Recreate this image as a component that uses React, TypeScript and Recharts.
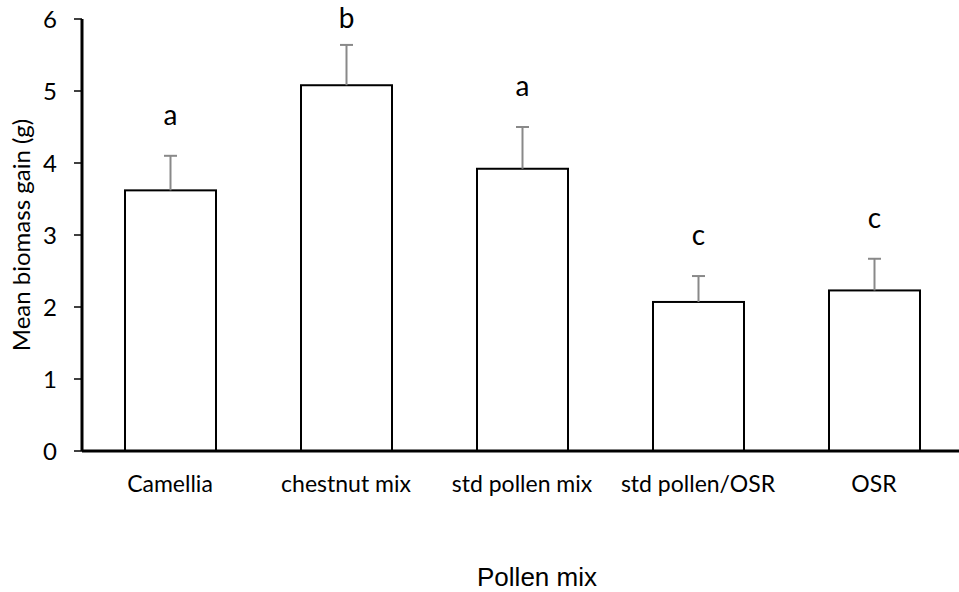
import { Bar, BarChart, XAxis, YAxis } from 'recharts'

const categories = ['Camellia', 'chestnut mix', 'std pollen mix', 'std pollen/OSR', 'OSR']
const means = [3.62, 5.08, 3.92, 2.07, 2.23]
const errors = [0.48, 0.56, 0.58, 0.36, 0.44]
const letters = ['a', 'b', 'a', 'c', 'c']
const yTicks = [0, 1, 2, 3, 4, 5, 6]

const BODY_FONT = 'Lato, "Open Sans", sans-serif'
const TITLE_FONT = '"Liberation Sans", Arial, sans-serif'

interface Row {
  name: string
  mean: number
  err: number
  letter: string
}

const rows: Row[] = categories.map((name, i) => ({
  name,
  mean: means[i],
  err: errors[i],
  letter: letters[i],
}))

// bar outline + upward error bar + significance letter
function BarWithError(props: Record<string, unknown>) {
  const { x, y, width, height, payload } = props as {
    x: number
    y: number
    width: number
    height: number
    payload: Row
  }
  const pxPerUnit = height / payload.mean
  const errTop = y - payload.err * pxPerUnit
  const cx = x + width / 2
  const letterY = Math.max(errTop - 31, 28)
  return (
    <g>
      <rect x={x} y={y} width={width} height={height} fill="#fff" stroke="#000" strokeWidth={2} />
      <line x1={cx} x2={cx} y1={y} y2={errTop} stroke="#898989" strokeWidth={2} />
      <line x1={cx - 6.5} x2={cx + 6.5} y1={errTop} y2={errTop} stroke="#898989" strokeWidth={2} />
      <text x={cx} y={letterY} textAnchor="middle" fontSize={28} fontFamily={BODY_FONT} fill="#000">
        {payload.letter}
      </text>
    </g>
  )
}

export default function App() {
  return (
    <div style={{ position: 'absolute', left: 0, top: 0, background: '#fff' }}>
      <BarChart
        width={965}
        height={592}
        data={rows}
        margin={{ top: 19, right: 3, bottom: 0, left: 0 }}
      >
        <XAxis
          dataKey="name"
          height={141}
          tickLine={false}
          tickSize={0}
          tickMargin={25}
          axisLine={{ stroke: '#000', strokeWidth: 3 }}
          tick={{ fill: '#000', fontSize: 23, fontFamily: BODY_FONT }}
          interval={0}
          label={({ viewBox }: { viewBox?: { x: number; y: number; width: number; height: number } }) =>
            viewBox ? (
              <text
                x={viewBox.x + viewBox.width / 2 + 15}
                y={577}
                textAnchor="middle"
                dominantBaseline="central"
                fontSize={26}
                fontFamily={TITLE_FONT}
                fill="#000"
              >
                Pollen mix
              </text>
            ) : null
          }
        />
        <YAxis
          type="number"
          domain={[0, 6]}
          ticks={yTicks}
          width={82}
          tickSize={8}
          tickMargin={17}
          axisLine={{ stroke: '#000', strokeWidth: 3 }}
          tickLine={{ stroke: '#000', strokeWidth: 1.5 }}
          tick={{ fill: '#000', fontSize: 24, fontFamily: BODY_FONT }}
          label={({ viewBox }: { viewBox?: { x: number; y: number; width: number; height: number } }) =>
            viewBox ? (
              <text
                x={20}
                y={viewBox.y + viewBox.height / 2}
                transform={`rotate(-90, 20, ${viewBox.y + viewBox.height / 2})`}
                textAnchor="middle"
                dominantBaseline="central"
                fontSize={24}
                fontFamily={BODY_FONT}
                fill="#000"
              >
                Mean biomass gain (g)
              </text>
            ) : null
          }
        />
        <Bar
          dataKey="mean"
          barSize={91}
          isAnimationActive={false}
          shape={(p: unknown) => <BarWithError {...(p as Record<string, unknown>)} />}
        />
      </BarChart>
    </div>
  )
}
